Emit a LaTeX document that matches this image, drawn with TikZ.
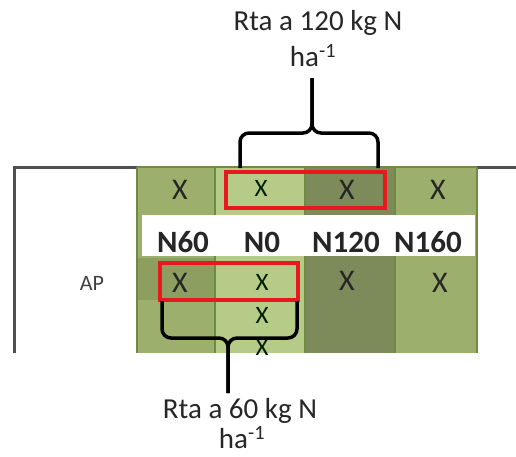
\documentclass[tikz,border=0pt]{standalone}
\usepackage{fontspec}
\setmainfont{Carlito}
\definecolor{gmid}{HTML}{9DAF6C}
\definecolor{glight}{HTML}{B7CB89}
\definecolor{gdark}{HTML}{7D8B5B}
\definecolor{gline}{HTML}{6F8A43}
\definecolor{frame}{HTML}{505050}
\definecolor{redbox}{HTML}{E8191E}
\begin{document}
\begin{tikzpicture}[x=1pt,y=-1pt,
  xmark/.style={font=\fontsize{30}{30}\selectfont, text=black!85, inner sep=0pt},
  xsmall/.style={font=\fontsize{25}{25}\selectfont, text=black!75!green!50!black, inner sep=0pt},
  trt/.style={font=\bfseries\fontsize{31}{31}\selectfont, text=black!85, inner sep=0pt},
  lbl/.style={font=\fontsize{29}{29}\selectfont, text=black!85, inner sep=0pt},
  redrect/.style={draw=redbox, line width=3.2pt},
  bracel/.style={draw=black, line width=3.5pt, rounded corners=9pt}
]
\useasboundingbox (0,0) rectangle (516,456);
% frame
\draw[frame, line width=3pt] (14,353) -- (14,167) -- (138,167);
\draw[frame, line width=3pt] (477,167) -- (516,167);
% columns
\fill[gmid]   (137,167) rectangle (215,353);
\fill[glight] (215,167) rectangle (305,353);
\fill[gdark]  (305,167) rectangle (395,353);
\fill[gmid]   (395,167) rectangle (477,353);
\fill[gmid!90!black] (137,258) rectangle (215,300);
\foreach \xx in {137,215,305,395,477}
  \draw[gline, line width=2pt] (\xx,167) -- (\xx,353);
\draw[gline, line width=1.5pt] (137,167) -- (477,167);
% white band
\fill[white] (142,215) rectangle (475,256);
% labels
\node[trt] (n60) at (183,242) {N60};
\node[trt] (n0) at (262,242) {N0};
\node[trt] (n120) at (346,242) {N120};
\node[trt] (n160) at (428,242) {N160};
\node[font=\fontsize{22}{22}\selectfont, text=black!75, inner sep=0pt] (ap) at (92,283) {AP};
% X marks
\node[xmark] (x1) at (180,190) {X};
\node[xsmall] (x2) at (261,188) {X};
\node[xmark] (x3) at (347,190) {X};
\node[xmark] (x4) at (438,190) {X};
\node[xmark] (x5) at (180,283) {X};
\node[xsmall] (x6) at (262,282) {X};
\node[xmark] (x7) at (347,281) {X};
\node[xmark] (x8) at (440,283) {X};
\node[xsmall] (x9) at (262,315) {X};
\node[xsmall] (x10) at (262,347) {X};
% red boxes
\draw[redrect] (226,172) rectangle (385,208);
\draw[redrect] (160,263) rectangle (298,300);
% top brace
\node[lbl] (top) at (318,23) {Rta a 120 kg N};
\node[lbl] (topu) at (313,56) {ha\textsuperscript{-1}};
\coordinate (ttip) at (312,78);
\coordinate (tl) at (240,168);
\coordinate (tr) at (378,168);
\draw[bracel] (tl) -- (240,133) -- (312,133) -- (ttip);
\draw[bracel] (tr) -- (378,133) -- (312,133) -- (ttip);
% bottom brace
\node[lbl] (bot) at (240,411) {Rta a 60 kg N};
\node[lbl] (botu) at (242,438) {ha\textsuperscript{-1}};
\coordinate (btip) at (228,393);
\coordinate (bl) at (162,301);
\coordinate (br) at (297,301);
\draw[bracel] (bl) -- (162,338) -- (228,338) -- (btip);
\draw[bracel] (br) -- (297,338) -- (228,338) -- (btip);
\end{tikzpicture}
\end{document}
